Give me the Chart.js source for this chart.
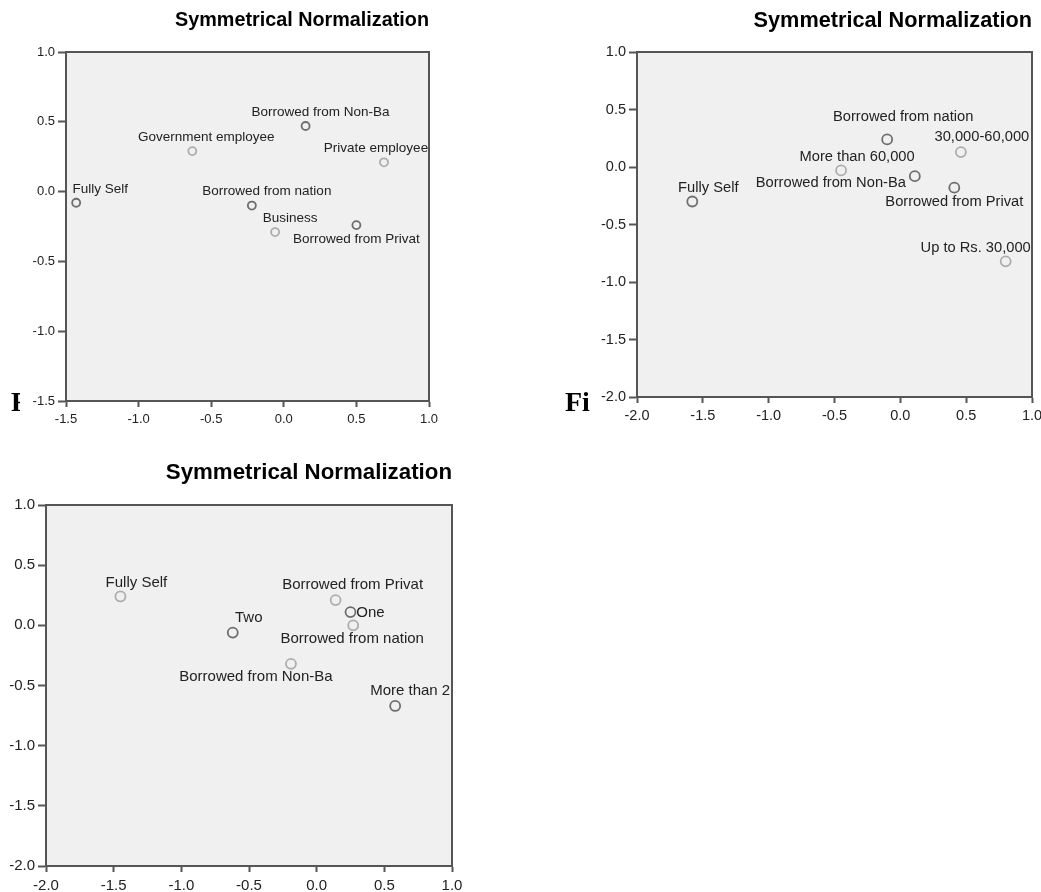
<!DOCTYPE html>
<html>
<head>
<meta charset="utf-8">
<script src="https://cdn.jsdelivr.net/npm/chart.js@4/dist/chart.umd.min.js"></script>
<style>
  html, body { margin: 0; padding: 0; background: #ffffff; }
  body { width: 1041px; height: 892px; position: relative; overflow: hidden; }
  .box { position: absolute; }
  .cap { position: absolute; font-family: "Liberation Serif", "DejaVu Serif", serif; font-weight: bold; font-size: 28px; line-height: 28px; color: #000; white-space: nowrap; overflow: hidden; }
</style>
</head>
<body>
<div class="box" style="left:0;top:0;width:445px;height:430px;"><canvas id="c1" width="445" height="430"></canvas></div>
<div class="box" style="left:530px;top:0;width:511px;height:430px;"><canvas id="c2" width="511" height="430"></canvas></div>
<div class="box" style="left:0;top:430px;width:470px;height:462px;"><canvas id="c3" width="470" height="462"></canvas></div>
<div class="cap" style="left:11px;top:388px;width:9px;">F</div>
<div class="cap" style="left:565px;top:388px;">Fi</div>
<script>
// ---------- DATA ----------
const chartTitle = 'Symmetrical Normalization';

// Chart 1
const c1RowNames = ['Fully Self', 'Borrowed from Non-Ba', 'Borrowed from nation', 'Borrowed from Privat'];
const c1RowX = [-1.43, 0.15, -0.22, 0.50];
const c1RowY = [-0.08, 0.47, -0.10, -0.24];
const c1ColNames = ['Government employee', 'Private employee', 'Business'];
const c1ColX = [-0.63, 0.69, -0.06];
const c1ColY = [0.29, 0.21, -0.29];
const c1XTicks = [-1.5, -1.0, -0.5, 0.0, 0.5, 1.0];
const c1YTicks = [-1.5, -1.0, -0.5, 0.0, 0.5, 1.0];

// Chart 2
const c2RowNames = ['Fully Self', 'Borrowed from nation', 'Borrowed from Non-Ba', 'Borrowed from Privat'];
const c2RowX = [-1.58, -0.10, 0.11, 0.41];
const c2RowY = [-0.30, 0.24, -0.08, -0.18];
const c2ColNames = ['30,000-60,000', 'More than 60,000', 'Up to Rs. 30,000'];
const c2ColX = [0.46, -0.45, 0.80];
const c2ColY = [0.13, -0.03, -0.82];
const c2XTicks = [-2.0, -1.5, -1.0, -0.5, 0.0, 0.5, 1.0];
const c2YTicks = [-2.0, -1.5, -1.0, -0.5, 0.0, 0.5, 1.0];

// Chart 3
const c3RowNames = ['Fully Self', 'Borrowed from Privat', 'Borrowed from nation', 'Borrowed from Non-Ba'];
const c3RowX = [-1.45, 0.14, 0.27, -0.19];
const c3RowY = [0.24, 0.21, 0.00, -0.32];
const c3ColNames = ['One', 'Two', 'More than 2'];
const c3ColX = [0.25, -0.62, 0.58];
const c3ColY = [0.11, -0.06, -0.67];
const c3XTicks = [-2.0, -1.5, -1.0, -0.5, 0.0, 0.5, 1.0];
const c3YTicks = [-2.0, -1.5, -1.0, -0.5, 0.0, 0.5, 1.0];

// ---------- STYLE / LAYOUT (not data) ----------
const DARK = '#6e6e6e';
const LIGHT = '#adadad';
const FRAME = '#555555';
const PLOTBG = '#f0f0f0';

// label center offsets (px) relative to the marker
const c1LabelOff = {
  'Fully Self': [24, -13], 'Borrowed from Non-Ba': [15, -14], 'Borrowed from nation': [15, -14],
  'Borrowed from Privat': [0, 14], 'Government employee': [14, -14], 'Private employee': [-8, -14], 'Business': [15, -14]
};
const c2LabelOff = {
  'Fully Self': [16, -14], 'Borrowed from nation': [16, -22], 'Borrowed from Non-Ba': [-84, 7],
  'Borrowed from Privat': [0, 14], '30,000-60,000': [21, -15], 'More than 60,000': [16, -14], 'Up to Rs. 30,000': [-30, -13]
};
const c3LabelOff = {
  'Fully Self': [16, -14], 'Borrowed from Privat': [17, -15], 'Borrowed from nation': [-1, 14],
  'Borrowed from Non-Ba': [-35, 13], 'One': [20, 1], 'Two': [16, -15], 'More than 2': [15, -15]
};

function pts(xs, ys) { return xs.map((x, i) => ({ x: x, y: ys[i] })); }

const plotPlugin = {
  id: 'plotDeco',
  beforeDraw(chart) {
    const a = chart.chartArea, ctx = chart.ctx;
    ctx.save();
    ctx.fillStyle = PLOTBG;
    ctx.fillRect(a.left, a.top, a.right - a.left, a.bottom - a.top);
    ctx.restore();
  },
  afterDraw(chart) {
    const a = chart.chartArea, ctx = chart.ctx, o = chart.options.plugins.plotDeco;
    ctx.save();
    ctx.strokeStyle = FRAME;
    ctx.lineWidth = 2;
    ctx.strokeRect(a.left, a.top, a.right - a.left, a.bottom - a.top);
    // title, right aligned to plot right edge
    ctx.fillStyle = '#000';
    ctx.font = 'bold ' + o.titleSize + 'px "Liberation Sans", Arial, sans-serif';
    ctx.textAlign = 'right';
    ctx.textBaseline = 'middle';
    ctx.fillText(chartTitle, a.right, o.titleY);
    // point labels
    ctx.font = o.labelSize + 'px "Liberation Sans", Arial, sans-serif';
    ctx.fillStyle = '#222';
    ctx.textAlign = 'center';
    ctx.textBaseline = 'middle';
    chart.data.datasets.forEach((ds, di) => {
      const meta = chart.getDatasetMeta(di);
      meta.data.forEach((el, i) => {
        const name = ds.names[i];
        const off = o.offsets[name] || [15, -14];
        ctx.fillText(name, el.x + off[0], el.y + off[1]);
      });
    });
    ctx.restore();
  }
};

function makeChart(id, cfg) {
  const W = cfg.W, H = cfg.H, A = cfg.area;
  const tickFont = { family: '"Liberation Sans", Arial, sans-serif', size: cfg.tickSize };
  new Chart(document.getElementById(id), {
    type: 'scatter',
    data: {
      datasets: [
        { names: cfg.rowNames, data: pts(cfg.rowX, cfg.rowY), pointStyle: 'circle', pointRadius: cfg.r,
          borderColor: cfg.rowColor, backgroundColor: 'rgba(0,0,0,0)', borderWidth: 1.8, pointBorderWidth: 1.8 },
        { names: cfg.colNames, data: pts(cfg.colX, cfg.colY), pointStyle: 'circle', pointRadius: cfg.r,
          borderColor: cfg.colColor, backgroundColor: 'rgba(0,0,0,0)', borderWidth: 1.8, pointBorderWidth: 1.8 }
      ]
    },
    options: {
      responsive: false,
      animation: false,
      events: [],
      layout: { padding: { left: 0, top: A.top, right: W - A.right, bottom: 0 } },
      plugins: {
        legend: { display: false },
        tooltip: { enabled: false },
        title: { display: false },
        plotDeco: { titleSize: cfg.titleSize, titleY: cfg.titleY, labelSize: cfg.labelSize, offsets: cfg.offsets }
      },
      scales: {
        x: {
          type: 'linear', min: cfg.xTicks[0], max: cfg.xTicks[cfg.xTicks.length - 1],
          afterBuildTicks: s => { s.ticks = cfg.xTicks.map(v => ({ value: v })); },
          afterFit: s => { s.height = H - A.bottom; s.paddingLeft = 0; s.paddingRight = 0; },
          grid: { drawOnChartArea: false, drawTicks: true, tickLength: 6, tickColor: FRAME, tickWidth: 2 },
          border: { display: true, color: FRAME, width: 2 },
          ticks: { color: '#222', font: tickFont, padding: cfg.xPad, maxRotation: 0, autoSkip: false,
                   callback: v => Number(v).toFixed(1) }
        },
        y: {
          type: 'linear', min: cfg.yTicks[0], max: cfg.yTicks[cfg.yTicks.length - 1],
          afterBuildTicks: s => { s.ticks = cfg.yTicks.map(v => ({ value: v })); },
          afterFit: s => { s.width = A.left; s.paddingTop = 0; s.paddingBottom = 0; },
          grid: { drawOnChartArea: false, drawTicks: true, tickLength: 8, tickColor: FRAME, tickWidth: 2 },
          border: { display: true, color: FRAME, width: 2 },
          ticks: { color: '#222', font: tickFont, padding: 3, autoSkip: false,
                   callback: v => Number(v).toFixed(1) }
        }
      }
    },
    plugins: [plotPlugin]
  });
}

makeChart('c1', {
  W: 445, H: 430, area: { left: 66, top: 52, right: 429, bottom: 401 },
  rowNames: c1RowNames, rowX: c1RowX, rowY: c1RowY, rowColor: DARK,
  colNames: c1ColNames, colX: c1ColX, colY: c1ColY, colColor: LIGHT,
  xTicks: c1XTicks, yTicks: c1YTicks, r: 4, tickSize: 13, labelSize: 13.5,
  titleSize: 19.8, titleY: 21, offsets: c1LabelOff, xPad: 5
});
makeChart('c2', {
  W: 511, H: 430, area: { left: 107, top: 52, right: 502, bottom: 397 },
  rowNames: c2RowNames, rowX: c2RowX, rowY: c2RowY, rowColor: DARK,
  colNames: c2ColNames, colX: c2ColX, colY: c2ColY, colColor: LIGHT,
  xTicks: c2XTicks, yTicks: c2YTicks, r: 5, tickSize: 14.5, labelSize: 14.7,
  titleSize: 21.7, titleY: 21, offsets: c2LabelOff, xPad: 4
});
makeChart('c3', {
  W: 470, H: 462, area: { left: 46, top: 75, right: 452, bottom: 436 },
  rowNames: c3RowNames, rowX: c3RowX, rowY: c3RowY, rowColor: LIGHT,
  colNames: c3ColNames, colX: c3ColX, colY: c3ColY, colColor: DARK,
  xTicks: c3XTicks, yTicks: c3YTicks, r: 5, tickSize: 15, labelSize: 15,
  titleSize: 22.3, titleY: 43, offsets: c3LabelOff, xPad: 5
});
</script>
</body>
</html>
